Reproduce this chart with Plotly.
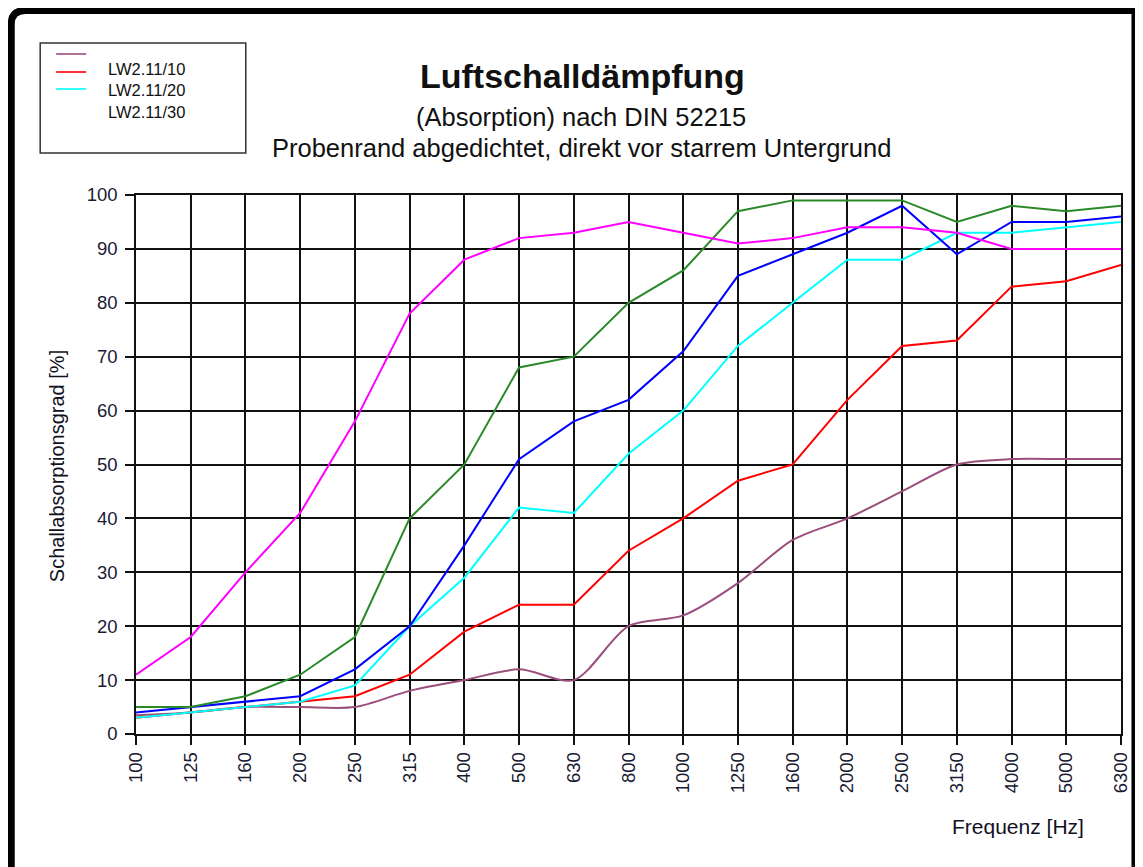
import plotly.graph_objects as go

freqs = ["100", "125", "160", "200", "250", "315", "400", "500", "630", "800",
         "1000", "1250", "1600", "2000", "2500", "3150", "4000", "5000", "6300"]

mauve_vals   = [3.5, 4, 5, 5, 5, 8, 10, 12, 10, 20, 22, 28, 36, 40, 45, 50, 51, 51, 51]
red_vals     = [3, 4, 5, 6, 7, 11, 19, 24, 24, 34, 40, 47, 50, 62, 72, 73, 83, 84, 87]
cyan_vals    = [3, 4, 5, 6, 9, 20, 29, 42, 41, 52, 60, 72, 80, 88, 88, 93, 93, 94, 95]
blue_vals    = [4, 5, 6, 7, 12, 20, 35, 51, 58, 62, 71, 85, 89, 93, 98, 89, 95, 95, 96]
green_vals   = [5, 5, 7, 11, 18, 40, 50, 68, 70, 80, 86, 97, 99, 99, 99, 95, 98, 97, 98]
magenta_vals = [11, 18, 30, 41, 58, 78, 88, 92, 93, 95, 93, 91, 92, 94, 94, 93, 90, 90, 90]

legend_labels = ["LW2.11/10", "LW2.11/20", "LW2.11/30"]

title_text = "Luftschalldämpfung"
subtitle1 = "(Absorption) nach DIN 52215"
subtitle2 = "Probenrand abgedichtet, direkt vor starrem Untergrund"
ytitle = "Schallabsorptionsgrad [%]"
xtitle = "Frequenz [Hz]"

# page has an 8px body margin; figure coords = page coords - 8
OFF = 8
W, H = 1143 - OFF, 867 - OFF
L, R, T, B = 136, 1123, 195, 734   # plot area in page coordinates
FONT = "Liberation Sans, Arial, sans-serif"


def px(x):
    return (x - L) / (R - L)


def py(y):
    return (B - y) / (B - T)


fig = go.Figure()

series = [
    (mauve_vals, "#9a4f7c", "spline"),
    (red_vals, "#ff0000", "linear"),
    (cyan_vals, "#00ffff", "linear"),
    (blue_vals, "#0000ff", "linear"),
    (green_vals, "#2a8a2a", "linear"),
    (magenta_vals, "#ff00ff", "linear"),
]
for vals, col, shp in series:
    line = dict(color=col, width=2, shape=shp)
    if shp == "spline":
        line["smoothing"] = 0.8
    fig.add_trace(go.Scatter(x=freqs, y=vals, mode="lines", line=line,
                             showlegend=False, hoverinfo="x+y"))

tickfont = dict(family=FONT, size=18.5, color="#1a1a33")
fig.update_xaxes(type="category", range=[0, len(freqs) - 1],
                 showgrid=True, gridcolor="#111111", gridwidth=1.6,
                 showline=True, linecolor="#111111", linewidth=1.6, mirror=True,
                 ticks="outside", ticklen=9, tickcolor="#111111", tickwidth=1.6,
                 tickangle=-90, tickfont=tickfont, zeroline=False)
fig.update_yaxes(range=[0, 100], dtick=10,
                 showgrid=True, gridcolor="#111111", gridwidth=1.6,
                 showline=True, linecolor="#111111", linewidth=1.6, mirror=True,
                 ticks="outside", ticklen=9, tickcolor="#111111", tickwidth=1.6,
                 ticklabelstandoff=4, tickfont=tickfont, zeroline=False)

shapes = []
# page border (rounded top-left corner)
path = (f"M {px(11)},{py(900)} L {px(11)},{py(24)} "
        f"Q {px(11)},{py(10.5)} {px(25)},{py(10.5)} "
        f"L {px(1137)},{py(10.5)} L {px(1137)},{py(900)}")
shapes.append(dict(type="path", xref="paper", yref="paper", path=path,
                   line=dict(color="black", width=7)))
# legend box
shapes.append(dict(type="rect", xref="paper", yref="paper",
                   x0=px(40), x1=px(246), y0=py(43), y1=py(153),
                   line=dict(color="#333333", width=1.5), fillcolor="white"))
legend_line_colors = ["#b0709a", "#ff3333", "#33ffff"]
legend_line_y = [54, 72, 89]
for c, yy in zip(legend_line_colors, legend_line_y):
    shapes.append(dict(type="line", xref="paper", yref="paper",
                       x0=px(56), x1=px(86), y0=py(yy), y1=py(yy),
                       line=dict(color=c, width=2)))

annotations = []
annotations.append(dict(text="<br>".join(legend_labels), xref="paper", yref="paper",
                        x=px(106), y=py(91), xanchor="left", yanchor="middle",
                        align="left", showarrow=False,
                        font=dict(family=FONT, size=16.5, color="#111111")))

annotations.append(dict(text=f"<b>{title_text}</b>", xref="paper", yref="paper",
                        x=px(583), y=py(76), xanchor="center", yanchor="middle",
                        showarrow=False, font=dict(family=FONT, size=34, color="#111111")))
annotations.append(dict(text=subtitle1, xref="paper", yref="paper",
                        x=px(582), y=py(117), xanchor="center", yanchor="middle",
                        showarrow=False, font=dict(family=FONT, size=25.5, color="#111111")))
annotations.append(dict(text=subtitle2, xref="paper", yref="paper",
                        x=px(582), y=py(148), xanchor="center", yanchor="middle",
                        showarrow=False, font=dict(family=FONT, size=25.5, color="#111111")))
annotations.append(dict(text=ytitle, xref="paper", yref="paper",
                        x=px(57), y=py(466), xanchor="center", yanchor="middle",
                        textangle=-90, showarrow=False,
                        font=dict(family=FONT, size=20, color="#111122")))
annotations.append(dict(text=xtitle, xref="paper", yref="paper",
                        x=px(1088), y=py(826), xanchor="right", yanchor="middle",
                        showarrow=False, font=dict(family=FONT, size=21, color="#111122")))

fig.update_layout(width=W, height=H,
                  margin=dict(l=L - OFF, r=W - (R - OFF), t=T - OFF, b=H - (B - OFF), pad=0),
                  paper_bgcolor="white", plot_bgcolor="white",
                  shapes=shapes, annotations=annotations, showlegend=False)

fig.write_html("out.html")
